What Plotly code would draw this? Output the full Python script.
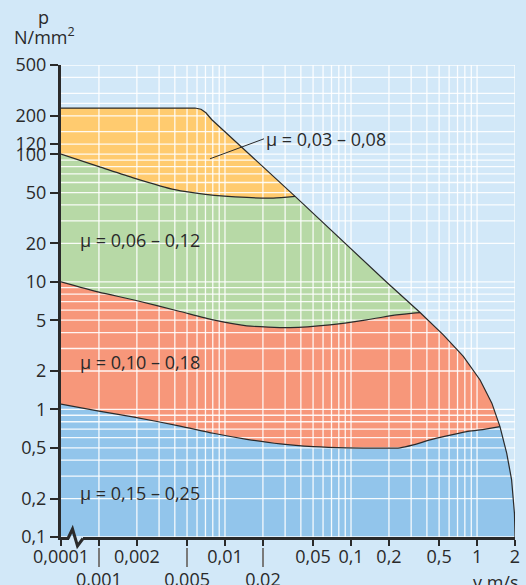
import math
import plotly.graph_objects as go

# ---------------- data ----------------
X_BREAK = 0.0005          # broken-axis position, labelled "0,0001"
X_MAX = 2.0
Y_MIN = 0.1
Y_MAX = 500.0

# outer envelope (upper limit of the whole field)
env_x = [X_BREAK, 0.00578, 0.00645, 0.00706, 0.00783, 0.036, 0.19, 0.353,
         0.54, 0.778, 1.057, 1.31, 1.52, 1.72, 1.88, 1.98, 2.0]
env_y = [230, 230, 225, 211, 187, 46.7, 10.0, 5.74,
         3.84, 2.6, 1.70, 1.12, 0.733, 0.453, 0.28, 0.153, 0.1]
J1, J2, J3 = 5, 7, 12     # junction indices on the envelope

# yellow / green boundary
yg_x = [X_BREAK, 0.001, 0.0019, 0.004, 0.007, 0.0149, 0.0242, 0.036]
yg_y = [100, 80, 65, 52.7, 48.5, 45.8, 45.3, 46.7]

# green / red boundary
gr_x = [X_BREAK, 0.001, 0.0019, 0.0044, 0.00807, 0.0149, 0.0328, 0.068,
        0.133, 0.23, 0.312, 0.353]
gr_y = [10, 8.3, 7.2, 5.85, 5.03, 4.52, 4.38, 4.6, 5.03, 5.5, 5.69, 5.74]

# red / blue boundary
rb_x = [X_BREAK, 0.001, 0.0019, 0.0044, 0.00807, 0.0149, 0.0274, 0.0503,
        0.0925, 0.17, 0.245, 0.312, 0.424, 0.575, 0.829, 1.057, 1.52]
rb_y = [1.10, 0.97, 0.87, 0.74, 0.65, 0.583, 0.536, 0.51,
        0.499, 0.497, 0.50, 0.527, 0.577, 0.62, 0.67, 0.69, 0.733]

region_labels = ["μ = 0,03 – 0,08", "μ = 0,06 – 0,12", "μ = 0,10 – 0,18", "μ = 0,15 – 0,25"]
label_x = [0.0076, 0.00068, 0.00068, 0.00068]
label_y = [92, 21.4, 2.36, 0.22]

x_tickvals = [X_BREAK, 0.001, 0.002, 0.005, 0.01, 0.02, 0.05, 0.1, 0.2, 0.5, 1, 2]
x_ticktext = ["0,0001", "", "0,002", "", "0,01", "", "0,05", "0,1", "0,2", "0,5", "1", "2"]
x2_tickvals = [0.001, 0.005, 0.02]
x2_ticktext = ["0,001", "0,005", "0,02"]
y_tickvals = [0.1, 0.2, 0.5, 1, 2, 5, 10, 20, 50, 100, 120, 200, 500]
y_ticktext = ["0,1", "0,2", "0,5", "1", "2", "5", "10", "20", "50", "100", "120", "200", "500"]

grid_mant = [1, 2, 3, 4, 5, 6, 7, 8, 9]
grid_x = [m * 10.0 ** d for d in (-3, -2, -1, 0) for m in grid_mant if m * 10.0 ** d <= 2.0001]
grid_y = [m * 10.0 ** d for d in (-1, 0, 1) for m in grid_mant] + [100, 120, 150, 200, 250, 300, 400, 500]

# ---------------- style ----------------
BG = "#D2E8F8"
C_BLUE = "#92C5EB"
C_RED = "#F7977A"
C_GREEN = "#B7D9A6"
C_YELLOW = "#FFCB6F"
INK = "#2a2a2a"
FONT = dict(family="Open Sans", size=18, color=INK)

fig = go.Figure()


def add_fill(xs, ys, color):
    fig.add_trace(go.Scatter(x=xs, y=ys, fill="toself", fillcolor=color, mode="none",
                             hoverinfo="skip", showlegend=False))


# regions
add_fill(rb_x + env_x[J3:] + [X_BREAK], rb_y + env_y[J3:] + [Y_MIN], C_BLUE)
add_fill(gr_x + env_x[J2:J3 + 1] + rb_x[::-1], gr_y + env_y[J2:J3 + 1] + rb_y[::-1], C_RED)
add_fill(yg_x + env_x[J1:J2 + 1] + gr_x[::-1], yg_y + env_y[J1:J2 + 1] + gr_y[::-1], C_GREEN)
add_fill(env_x[:J1 + 1] + yg_x[::-1], env_y[:J1 + 1] + yg_y[::-1], C_YELLOW)

# white grid drawn above the fills
vx, vy = [], []
for g in grid_x:
    vx += [g, g, None]
    vy += [Y_MIN, Y_MAX, None]
hx, hy = [], []
for g in grid_y:
    hx += [X_BREAK, X_MAX, None]
    hy += [g, g, None]
for gx, gy in ((vx, vy), (hx, hy)):
    fig.add_trace(go.Scatter(x=gx, y=gy, mode="lines", line=dict(color="rgba(255,255,255,0.9)", width=1.3),
                             hoverinfo="skip", showlegend=False))

# boundary lines
for bx, by, shp in ((env_x, env_y, "linear"), (yg_x, yg_y, "spline"), (gr_x, gr_y, "spline"), (rb_x, rb_y, "spline")):
    fig.add_trace(go.Scatter(x=bx, y=by, mode="lines", line=dict(color=INK, width=1.2, shape=shp, smoothing=0.6),
                             hoverinfo="skip", showlegend=False))

# dummy trace so the second x axis is rendered
fig.add_trace(go.Scatter(x=[], y=[], xaxis="x2", showlegend=False))

# annotations for the regions
ann = []
ann.append(dict(x=math.log10(label_x[0]), y=math.log10(label_y[0]), xref="x", yref="y",
                text=region_labels[0], showarrow=True, arrowhead=0, arrowwidth=1, arrowcolor=INK,
                ax=54, ay=-20, xanchor="left", yanchor="middle", font=FONT))
for t, lx, ly in zip(region_labels[1:], label_x[1:], label_y[1:]):
    ann.append(dict(x=math.log10(lx), y=math.log10(ly), xref="x", yref="y", text=t,
                    showarrow=False, xanchor="left", yanchor="middle", font=FONT))
# axis titles
ann.append(dict(x=-0.038, y=1.1, xref="paper", yref="paper", text="p", showarrow=False,
                xanchor="center", yanchor="middle", font=FONT))
ann.append(dict(x=-0.036, y=1.06, xref="paper", yref="paper", text="N/mm<sup>2</sup>", showarrow=False,
                xanchor="center", yanchor="middle", font=FONT))
ann.append(dict(x=0.958, y=-0.072, xref="paper", yref="paper", text="v m/s", showarrow=False,
                xanchor="center", yanchor="middle", font=FONT))

D = 10 / 482  # gap between plot bottom and the lower tick row axis

# axis-break zigzag (decoration, pixel offsets from the plot's lower-left corner)
shapes = [
    dict(type="path", xref="paper", yref="paper", xsizemode="pixel", ysizemode="pixel",
         xanchor=0, yanchor=D, path="M 8,0.5 L 22,0.5 L 22,-4 L 8,-4 Z",
         fillcolor=BG, line=dict(width=0), layer="above"),
    dict(type="path", xref="paper", yref="paper", xsizemode="pixel", ysizemode="pixel",
         xanchor=0, yanchor=D, path="M 7,-1.5 L 11.5,8 L 16.5,-9 L 22,-1.5",
         line=dict(color=INK, width=3), layer="above"),
]

fig.update_layout(
    width=526, height=585,
    margin=dict(l=61, r=11, t=65, b=38, autoexpand=False),
    paper_bgcolor=BG, plot_bgcolor=BG,
    font=FONT,
    showlegend=False,
    annotations=ann,
    shapes=shapes,
    xaxis=dict(type="log", range=[math.log10(X_BREAK), math.log10(X_MAX)], automargin=False,
               showgrid=False, zeroline=False, showline=True, linewidth=3, linecolor=INK,
               ticks="outside", ticklen=6, tickwidth=1.5, tickcolor=INK, ticklabelstandoff=-5,
               tickvals=x_tickvals, ticktext=x_ticktext, tickfont=FONT, anchor="y"),
    xaxis2=dict(type="log", range=[math.log10(X_BREAK), math.log10(X_MAX)], overlaying="x",
                anchor="free", position=0, side="bottom", automargin=False,
                showgrid=False, zeroline=False, showline=False,
                ticks="outside", ticklen=19, tickwidth=1.5, tickcolor="#7a7a7a", ticklabelstandoff=-3,
                tickvals=x2_tickvals, ticktext=x2_ticktext, tickfont=FONT),
    yaxis=dict(type="log", range=[math.log10(Y_MIN), math.log10(Y_MAX)], domain=[D, 1], automargin=False,
               showgrid=False, zeroline=False, showline=True, linewidth=3, linecolor=INK,
               ticks="outside", ticklen=8, tickwidth=1.5, tickcolor=INK,
               tickvals=y_tickvals, ticktext=y_ticktext, tickfont=FONT),
)

fig.write_html("out.html", config={"displayModeBar": False},
               post_script="document.body.style.margin='0px';document.body.style.background='%s';" % BG)
